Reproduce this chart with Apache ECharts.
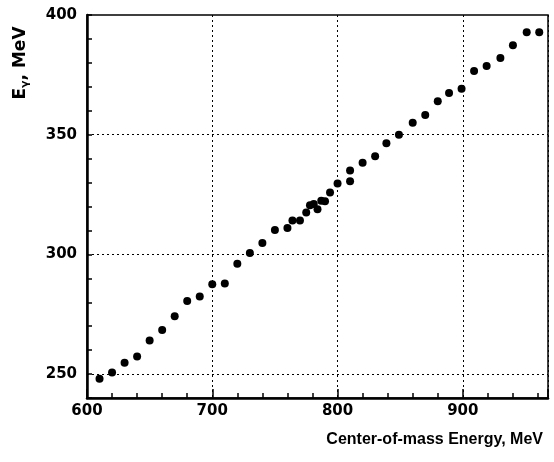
<!DOCTYPE html>
<html>
<head>
<meta charset="utf-8">
<script src="https://cdn.jsdelivr.net/npm/echarts@6/dist/echarts.min.js"></script>
<style>
  html, body { margin: 0; padding: 0; background: #fff; }
  #chart { width: 554px; height: 462px; }
</style>
</head>
<body>
<div id="chart"></div>
<script>
// center-of-mass energy, MeV
const energies = [610, 620, 630, 640, 650, 660, 670, 680, 690, 700, 710, 720, 730, 740, 750,
  760, 764, 770, 775, 778, 781, 784, 787, 790, 794, 800, 810, 810, 820, 830, 839, 849,
  860, 870, 880, 889, 899, 909, 919, 930, 940, 951, 961]
// E value, MeV
const eValues = [248, 250.7, 254.7, 257.3, 264, 268.4, 274.2, 280.5, 282.4, 287.5, 287.8, 296.1, 300.6, 304.7, 310.2,
  311, 314.1, 314.1, 317.5, 320.5, 321, 318.9, 322.4, 322.2, 325.9, 329.6, 330.5, 335, 338.3, 341, 346.4, 350,
  355, 358.2, 364, 367.4, 369.2, 376.6, 378.7, 382, 387.4, 392.8, 392.8]
const yGridValues = [250, 300, 350]

const labelFont = { fontFamily: 'DejaVu Sans', fontWeight: 'bold', fontSize: 15, color: '#000' }
const gridLineStyle = { color: '#000', width: 1, type: [2, 3] }

const chart = echarts.init(document.getElementById('chart'))

const option = {
  animation: false,
  backgroundColor: '#fff',
  grid: {
    left: 87, top: 15, right: 6, bottom: 64,
    show: true, borderColor: '#000', borderWidth: 1.5
  },
  graphic: [{
    type: 'text',
    x: 21, y: 63,
    rotation: Math.PI / 2,
    style: {
      text: '{e|E}{s|γ}{e|, MeV}',
      align: 'center', verticalAlign: 'middle',
      rich: {
        e: { fontFamily: 'DejaVu Sans', fontWeight: 'bold', fontSize: 17, fill: '#000' },
        s: { fontFamily: 'DejaVu Sans', fontWeight: 'bold', fontSize: 11, fill: '#000', padding: [9, 0, 0, 0] }
      }
    }
  }],
  xAxis: {
    type: 'value',
    min: 600, max: 968, interval: 100,
    name: 'Center-of-mass Energy, MeV',
    nameLocation: 'end',
    nameGap: -5,
    nameTextStyle: {
      fontFamily: 'Liberation Sans', fontWeight: 'bold', fontSize: 16, color: '#000',
      align: 'right', verticalAlign: 'top', padding: [34, 0, 0, 0]
    },
    axisLine: { show: true, lineStyle: { color: '#000', width: 2.5 } },
    axisTick: { show: true, inside: true, length: 9, lineStyle: { color: '#000', width: 1.5 } },
    minorTick: { show: true, splitNumber: 5, length: 5, lineStyle: { color: '#000', width: 1.5 } },
    axisLabel: {
      ...labelFont, margin: 6,
      formatter: (v) => (v % 100 === 0 ? String(v) : '')
    },
    splitLine: { show: true, lineStyle: gridLineStyle }
  },
  yAxis: {
    type: 'value',
    min: 240, max: 400, interval: 10,
    axisLine: { show: true, lineStyle: { color: '#000', width: 2.5 } },
    axisTick: { show: true, inside: true, length: 5, lineStyle: { color: '#000', width: 1.5 } },
    axisLabel: {
      ...labelFont, margin: 10,
      formatter: (v) => (v % 50 === 0 ? String(v) : '')
    },
    splitLine: { show: false }
  },
  series: [
    {
      type: 'scatter',
      symbol: 'circle',
      symbolSize: 8,
      itemStyle: { color: '#000', opacity: 1 },
      data: energies.map((e, i) => [e, eValues[i]]),
      markLine: {
        silent: true,
        symbol: 'none',
        label: { show: false },
        lineStyle: gridLineStyle,
        data: yGridValues.map((v) => ({ yAxis: v }))
      }
    }
  ]
}

chart.setOption(option)
</script>
</body>
</html>
